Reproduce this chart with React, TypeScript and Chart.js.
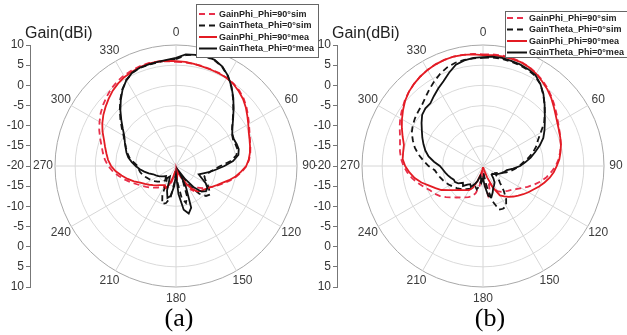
import React, { useEffect, useRef } from 'react';
import { Chart, registerables } from 'chart.js';

Chart.register(...registerables);
Chart.defaults.font.family = '"Liberation Sans", Arial, sans-serif';

// ---------- data ----------
const ANGLES = [
  0, 5, 10, 15, 20, 25, 30, 35, 40, 45, 50, 55, 60, 65, 70, 75, 80, 85,
  90, 95, 100, 105, 110, 115, 120, 125, 130, 135, 140, 145, 150, 155, 160, 165, 170, 175,
  180, 185, 190, 195, 200, 205, 210, 215, 220, 225, 230, 235, 240, 245, 250, 255, 260, 265,
  270, 275, 280, 285, 290, 295, 300, 305, 310, 315, 320, 325, 330, 335, 340, 345, 350, 355,
];
const ANGLE_TICKS = [0, 30, 60, 90, 120, 150, 180, 210, 240, 270, 300, 330];
const R_MIN = -20;
const R_MAX = 10;
const R_STEP = 5;
const AXIS_TITLE = 'Gain(dBi)';
const CAPTIONS = ['(a)', '(b)'];
const SERIES_LABELS = [
  'GainPhi_Phi=90°sim',
  'GainTheta_Phi=0°sim',
  'GainPhi_Phi=90°mea',
  'GainTheta_Phi=0°mea',
];

// panel (a)
const A_PHI_SIM = [
  5.8, 5.8, 5.7, 5.6, 5.5, 5.4, 5.2, 4.9, 4.4, 3.7,
  2.8, 1.8, 0.9, 0.1, -0.5, -0.9, -1.3, -1.8, -2.5, -3.6,
  -4.8, -6.1, -7.4, -8.6, -9.6, -10.6, -11.5, -12.4, -13.0, -12.5,
  -13.5, -16.0, -18.0, -19.0, -19.5, -19.0, -18.0, -19.0, -18.0, -16.0,
  -14.5, -14.0, -14.0, -13.6, -13.0, -12.4, -11.7, -11.0, -10.2, -9.3,
  -8.1, -6.9, -5.6, -4.3, -3.2, -2.3, -1.6, -0.9, 0.0, 1.0,
  1.9, 2.8, 3.6, 4.3, 5.0, 5.5, 5.9, 6.1, 6.3, 6.4,
  6.3, 6.1,
];
const A_THETA_SIM = [
  6.5, 7.6, 8.0, 8.1, 7.9, 7.1, 5.7, 3.9, 2.0, 0.1,
  -1.6, -3.0, -4.0, -4.4, -4.3, -4.2, -4.8, -6.5, -9.0, -10.5,
  -11.5, -12.0, -12.5, -12.0, -11.0, -10.0, -9.0, -9.5, -11.0, -14.0,
  -17.0, -16.0, -12.0, -10.5, -12.0, -16.0, -19.0, -16.0, -12.0, -10.5,
  -10.0, -12.0, -15.0, -16.0, -15.0, -14.5, -14.0, -13.5, -13.0, -12.5,
  -12.0, -11.5, -11.0, -10.7, -10.5, -9.5, -8.3, -7.5, -6.8, -6.0,
  -5.0, -3.6, -2.0, -0.3, 1.5, 3.2, 4.6, 5.5, 5.9, 6.0,
  6.1, 6.3,
];
const A_PHI_MEA = [
  6.0, 5.9, 5.7, 5.5, 5.4, 5.3, 5.2, 4.8, 4.2, 3.5,
  2.6, 1.6, 0.7, -0.1, -0.6, -1.0, -1.4, -1.9, -2.6, -3.8,
  -5.0, -6.4, -7.8, -8.8, -9.7, -10.4, -10.9, -11.3, -11.8, -13.0,
  -15.0, -17.0, -18.5, -19.0, -18.0, -17.0, -17.5, -18.5, -18.5, -17.0,
  -15.0, -14.0, -14.5, -14.2, -13.8, -13.2, -12.6, -11.9, -11.1, -10.2,
  -8.9, -7.6, -6.3, -5.0, -3.9, -3.1, -2.5, -1.8, -1.0, 0.1,
  1.1, 2.0, 2.8, 3.6, 4.4, 5.0, 5.5, 5.8, 6.1, 6.3,
  6.3, 6.2,
];
const A_THETA_MEA = [
  6.8, 7.8, 8.0, 8.2, 8.0, 7.2, 5.8, 4.0, 2.1, 0.2,
  -1.5, -2.9, -3.9, -4.2, -4.0, -3.9, -4.3, -5.8, -8.0, -10.0,
  -11.5, -13.0, -14.0, -13.0, -11.5, -10.5, -10.3, -11.0, -13.0, -16.0,
  -18.5, -14.0, -9.0, -7.8, -9.0, -13.0, -18.0, -15.0, -12.5, -11.8,
  -13.5, -16.0, -17.0, -16.5, -16.0, -16.5, -16.0, -15.5, -15.0, -14.5,
  -14.0, -13.0, -12.0, -11.0, -10.0, -9.0, -8.0, -7.3, -6.7, -6.0,
  -5.2, -3.9, -2.3, -0.5, 1.3, 3.1, 4.6, 5.6, 6.0, 6.1,
  6.2, 6.4,
];

// panel (b)
const B_PHI_SIM = [
  7.7, 7.8, 7.8, 7.7, 7.5, 7.1, 6.5, 5.8, 5.0, 4.1,
  3.2, 2.3, 1.5, 0.9, 0.4, 0.0, -0.6, -1.2, -2.0, -3.0,
  -4.0, -5.2, -6.5, -7.8, -9.0, -10.0, -10.8, -11.3, -11.8, -12.2,
  -12.8, -14.0, -16.0, -13.5, -12.5, -15.5, -19.0, -17.5, -15.0, -13.0,
  -12.0, -11.5, -11.0, -10.5, -9.8, -9.0, -8.0, -7.0, -6.2, -5.6,
  -4.6, -3.4, -2.2, -1.2, -0.3, 0.4, 0.9, 1.3, 1.9, 2.8,
  3.7, 4.5, 5.3, 6.0, 6.6, 7.1, 7.5, 7.8, 8.0, 8.1,
  8.0, 7.9,
];
const B_THETA_SIM = [
  6.8, 7.0, 7.0, 6.8, 6.6, 6.3, 5.8, 4.8, 3.2, 1.6,
  0.0, -1.5, -3.5, -5.0, -6.0, -7.2, -8.6, -10.0, -11.0, -12.0,
  -13.0, -14.0, -15.0, -16.0, -16.5, -16.0, -15.0, -14.0, -12.0, -10.0,
  -8.5, -8.3, -8.5, -11.0, -15.0, -18.0, -18.0, -17.0, -15.0, -14.0,
  -14.5, -14.0, -13.5, -13.0, -12.5, -12.0, -11.5, -11.0, -10.5, -10.0,
  -9.5, -9.0, -8.5, -8.0, -6.5, -5.2, -3.8, -2.5, -1.5, -0.5,
  0.1, 0.6, 1.0, 1.4, 2.2, 3.2, 4.2, 5.2, 6.0, 6.5,
  6.7, 6.8,
];
const B_PHI_MEA = [
  7.5, 7.6, 7.6, 7.5, 7.4, 7.0, 6.4, 5.6, 4.8, 3.9,
  2.9, 2.0, 1.3, 0.8, 0.4, 0.0, -0.5, -1.0, -1.7, -2.4,
  -3.2, -4.2, -5.2, -6.2, -7.0, -7.8, -8.6, -9.3, -10.0, -10.8,
  -11.6, -14.0, -17.0, -19.0, -19.5, -19.5, -19.5, -19.5, -19.0, -18.0,
  -16.0, -14.0, -13.1, -12.7, -12.2, -11.6, -10.7, -9.6, -8.1, -7.0,
  -5.8, -4.2, -2.8, -1.7, -0.7, 0.0, 0.1, 0.3, 1.2, 2.2,
  3.2, 4.2, 5.2, 6.0, 6.6, 7.1, 7.5, 7.8, 8.0, 8.1,
  8.0, 7.8,
];
const B_THETA_MEA = [
  7.0, 7.2, 7.2, 7.0, 6.8, 6.5, 6.0, 4.8, 3.3, 1.6,
  0.0, -1.3, -2.4, -3.5, -5.0, -6.6, -8.0, -9.5, -10.8, -12.5,
  -14.0, -14.5, -15.0, -15.5, -16.0, -16.5, -17.0, -17.0, -16.0, -15.0,
  -14.5, -14.0, -13.0, -12.0, -12.5, -15.0, -17.0, -16.0, -17.0, -17.5,
  -16.0, -15.0, -14.0, -14.5, -14.0, -13.0, -13.5, -12.5, -12.0, -12.0,
  -11.5, -11.0, -10.5, -10.0, -9.3, -7.8, -6.3, -5.2, -4.3, -3.4,
  -2.5, -1.4, -0.3, 0.2, 0.3, 1.2, 2.2, 3.2, 4.6, 6.0,
  6.6, 6.9,
];

// ---------- styling ----------
const STYLES = [
  { color: '#e8304c', dash: [6, 4], order: 3 },
  { color: '#151515', dash: [6, 4], order: 2 },
  { color: '#e31b23', dash: [] as number[], order: 1 },
  { color: '#111111', dash: [] as number[], order: 0 },
];

const decorPlugin = {
  id: 'panelDecor',
  afterDraw(chart: any, _args: any, o: any) {
    const ctx = chart.ctx as CanvasRenderingContext2D;
    const r = chart.scales.r;
    ctx.save();
    // angle labels
    ctx.font = '12px "Liberation Sans", Arial, sans-serif';
    ctx.fillStyle = '#3c3c3c';
    ctx.textAlign = 'center';
    ctx.textBaseline = 'middle';
    ANGLE_TICKS.forEach((a) => {
      const idx = ANGLES.indexOf(a);
      const p = r.getPointPosition(idx, r.drawingArea + o.labelGap);
      ctx.fillText(String(a), p.x, p.y);
    });
    // axis title
    ctx.font = '16px "Liberation Sans", Arial, sans-serif';
    ctx.textAlign = 'left';
    ctx.textBaseline = 'alphabetic';
    ctx.fillStyle = '#222';
    ctx.fillText(AXIS_TITLE, o.titleX, o.titleY);
    // caption
    ctx.font = '26px "Liberation Serif", "Times New Roman", serif';
    ctx.textAlign = 'center';
    ctx.fillStyle = '#000';
    ctx.fillText(o.caption, o.captionX, o.captionY);
    // legend box
    const L = o.legend;
    ctx.fillStyle = '#fff';
    ctx.fillRect(L.x, L.y, L.w, L.h);
    ctx.strokeStyle = '#666';
    ctx.lineWidth = 1;
    ctx.strokeRect(L.x + 0.5, L.y + 0.5, L.w, L.h);
    chart.data.datasets.forEach((ds: any, i: number) => {
      const yy = L.row0 + i * L.gap;
      ctx.strokeStyle = ds.borderColor;
      ctx.lineWidth = 2;
      ctx.setLineDash(ds.borderDash || []);
      ctx.beginPath();
      ctx.moveTo(L.sx0, yy);
      ctx.lineTo(L.sx1, yy);
      ctx.stroke();
      ctx.setLineDash([]);
      ctx.fillStyle = '#222';
      ctx.font = 'bold 9px "Liberation Sans", Arial, sans-serif';
      ctx.textAlign = 'left';
      ctx.textBaseline = 'middle';
      ctx.fillText(ds.label, L.textX, yy + 0.5);
    });
    ctx.restore();
  },
};

function buildConfig(series: number[][], caption: string, captionX: number, legend: any): any {
  return {
    type: 'radar',
    data: {
      labels: ANGLES.map(String),
      datasets: series.map((vals, i) => ({
        label: SERIES_LABELS[i],
        data: vals,
        borderColor: STYLES[i].color,
        borderDash: STYLES[i].dash,
        borderWidth: 1.8,
        order: STYLES[i].order,
        fill: false,
        pointRadius: 0,
        pointHoverRadius: 0,
        tension: 0,
        clip: false,
      })),
    },
    plugins: [decorPlugin],
    options: {
      responsive: false,
      animation: false,
      devicePixelRatio: 1,
      layout: { padding: { left: 0, right: 8, top: 45, bottom: 48 } },
      events: [],
      scales: {
        r: {
          min: R_MIN,
          max: R_MAX,
          startAngle: 0,
          ticks: { display: false, stepSize: R_STEP },
          pointLabels: { display: false },
          grid: {
            circular: true,
            color: (c: any) => (c.tick && c.tick.value === R_MAX ? '#a8a8a8' : '#dadada'),
            lineWidth: 1,
          },
          angleLines: {
            color: '#d6d6d6',
            lineWidth: (c: any) => (c.index % 6 === 0 ? 1 : 0),
          },
        },
        y: {
          type: 'linear',
          position: 'left',
          min: R_MIN - R_MAX,
          max: R_MAX - R_MIN,
          afterFit: (s: any) => {
            s.width = 30;
          },
          ticks: {
            stepSize: R_STEP,
            autoSkip: false,
            padding: 2,
            color: '#333',
            font: { size: 12 },
            callback: (v: any) => String(Math.abs(Number(v)) + R_MIN),
          },
          grid: { drawOnChartArea: false, drawTicks: true, tickLength: 4, color: '#777' },
          border: { display: true, color: '#777' },
        },
      },
      plugins: {
        legend: { display: false },
        tooltip: { enabled: false },
        title: { display: false },
        panelDecor: {
          labelGap: 12,
          titleX: 25,
          titleY: 38,
          caption,
          captionX,
          captionY: 326,
          legend,
        },
      },
    },
  };
}

function PolarPanel(props: { left: number; series: number[][]; caption: string; captionX: number; legend: any }) {
  const ref = useRef<HTMLCanvasElement | null>(null);
  useEffect(() => {
    if (!ref.current) return;
    const chart = new Chart(ref.current, buildConfig(props.series, props.caption, props.captionX, props.legend));
    return () => chart.destroy();
  }, []);
  return (
    <canvas
      ref={ref}
      width={330}
      height={335}
      style={{ position: 'absolute', left: props.left, top: 0, width: 330, height: 335 }}
    />
  );
}

export default function App() {
  return (
    <div
      style={{
        position: 'fixed',
        left: 0,
        top: 0,
        width: 627,
        height: 335,
        overflow: 'hidden',
        background: '#fff',
      }}
    >
      <PolarPanel
        left={0}
        series={[A_PHI_SIM, A_THETA_SIM, A_PHI_MEA, A_THETA_MEA]}
        caption={CAPTIONS[0]}
        captionX={179}
        legend={{ x: 196, y: 4, w: 122, h: 53, row0: 14, gap: 11.5, sx0: 199, sx1: 217, textX: 219 }}
      />
      <PolarPanel
        left={307}
        series={[B_PHI_SIM, B_THETA_SIM, B_PHI_MEA, B_THETA_MEA]}
        caption={CAPTIONS[1]}
        captionX={183}
        legend={{ x: 198, y: 11, w: 130, h: 46, row0: 18, gap: 11.5, sx0: 200, sx1: 220, textX: 222 }}
      />
    </div>
  );
}
